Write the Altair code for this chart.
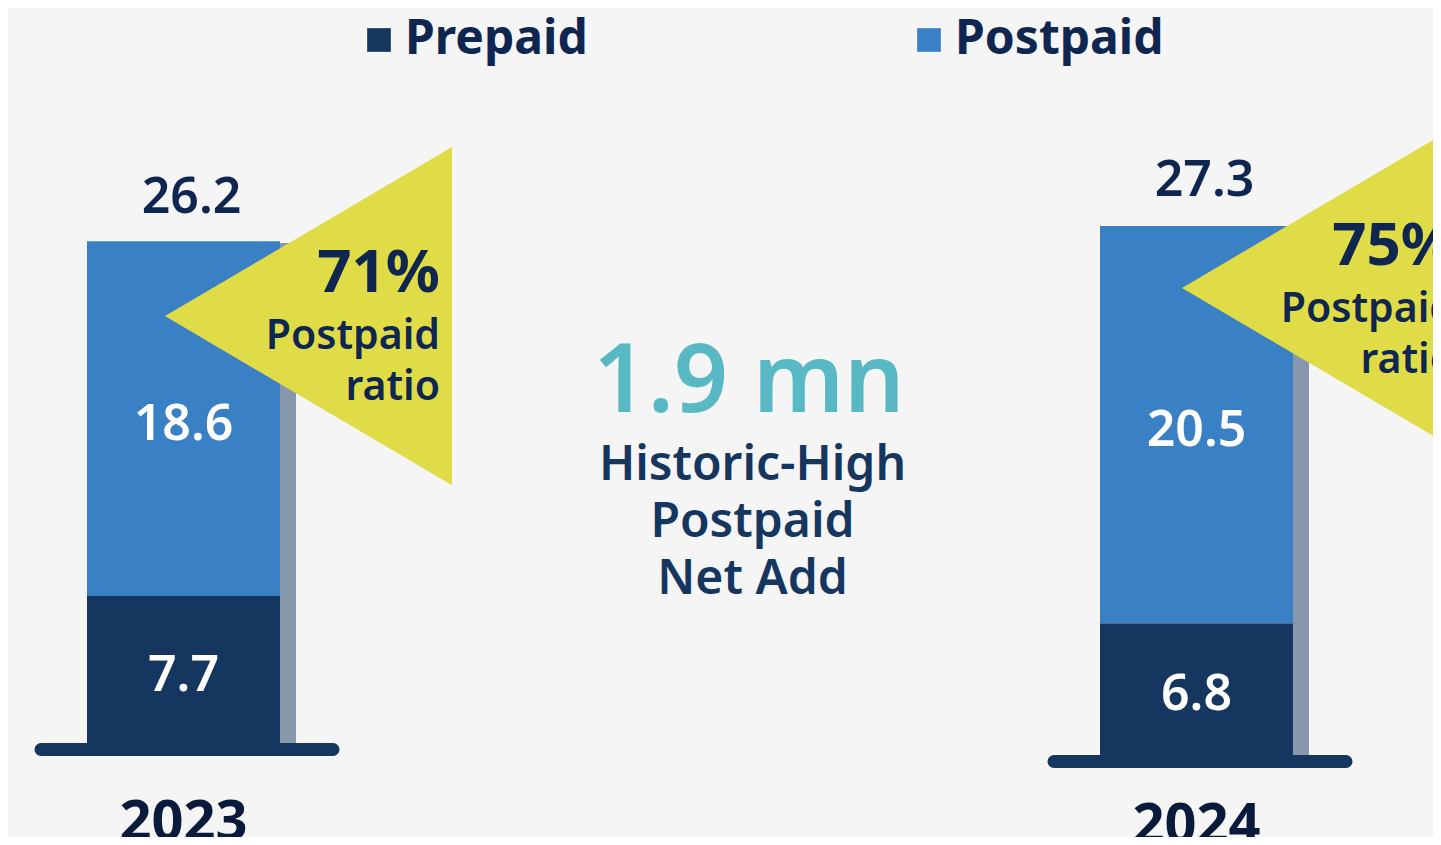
import altair as alt
import pandas as pd

# ---------------- data ----------------
years = [2023, 2024]
prepaid = [7.7, 6.8]
postpaid = [18.6, 20.5]
totals = [26.2, 27.3]
ratios = ["71%", "75%"]
ratio_label = "Postpaid\nratio"
series = ["Prepaid", "Postpaid"]
headline = "1.9 mn"
subline = "Historic-High\nPostpaid\nNet Add"

# ---------------- style ----------------
FONT = "Noto Sans"
NAVY = "#15365f"
BLUE = "#3a80c4"
SHADOW = "#8798ad"
YELLOW = "#e0dc48"
TEAL = "#58b8c3"
INK = "#0e2650"
BG = "#f5f5f5"

W, H = 1425, 829
X_PER_YEAR = 1013.0
X_ANCHOR = 175.5
x_domain = [years[0] - X_ANCHOR / X_PER_YEAR, years[0] + (W - X_ANCHOR) / X_PER_YEAR]
xsc = alt.Scale(domain=x_domain, nice=False, zero=False, padding=0)

# per-panel layout (pixels)
layout = [
    dict(base=735, k=19.08, year_dy=97, tri_dx=125, tri_dy=73, pct_dx=256.5, pct_dy=49, lab_dy=106),
    dict(base=747, k=19.38, year_dy=88, tri_dx=129, tri_dy=62, pct_dx=258.5, pct_dy=39, lab_dy=96),
]

# ---------------- tables ----------------
seg_rows = []
for yr, pre, post in zip(years, prepaid, postpaid):
    seg_rows.append(dict(year=yr, series="Prepaid", value=pre, y0=0.0, y1=pre, mid=pre / 2))
    seg_rows.append(dict(year=yr, series="Postpaid", value=post, y0=pre, y1=pre + post, mid=pre + post / 2))
seg_df = pd.DataFrame(seg_rows)
tot_df = pd.DataFrame(dict(year=years, total=totals, ratio=ratios, zero=[0.0] * len(years),
                           label=[ratio_label] * len(years), ylab=[str(y) for y in years]))

legend = alt.Legend(
    title=None, orient="none", legendX=347, legendY=8, direction="horizontal",
    symbolType="square", symbolSize=560, symbolStrokeWidth=0, symbolOpacity=1,
    labelFontSize=48, labelFont=FONT, labelFontWeight="bold", labelColor=INK,
    labelOffset=2, columnPadding=317, padding=0, labelLimit=500,
)

TRI_PATH = "M1,-1.178L1,1.178L-1,0Z"


def panel(i):
    L = layout[i]
    d0 = -(H - L["base"]) / L["k"]
    ysc = alt.Scale(domain=[d0, d0 + H / L["k"]], nice=False, zero=False, padding=0)
    seg = seg_df[seg_df["year"] == years[i]]
    tot = tot_df[tot_df["year"] == years[i]]
    X = alt.X("year:Q", scale=xsc, axis=None)

    shadow = alt.Chart(tot).mark_bar(width=16, xOffset=104.5, color=SHADOW).encode(
        x=X, y=alt.Y("total:Q", scale=ysc, axis=None), y2="zero:Q")
    bars = alt.Chart(seg).mark_bar(width=193).encode(
        x=X, y=alt.Y("y0:Q", scale=ysc, axis=None), y2="y1:Q",
        color=alt.Color("series:N", scale=alt.Scale(domain=series, range=[NAVY, BLUE]), legend=legend))
    base = alt.Chart(tot).mark_rule(strokeWidth=13, strokeCap="round", color=NAVY,
                                    xOffset=-142.5, x2Offset=149.5, yOffset=6.5).encode(
        x=X, x2="year:Q", y=alt.Y("zero:Q", scale=ysc, axis=None))
    seg_lab = alt.Chart(seg).mark_text(font=FONT, fontSize=50, fontWeight=600, color="white",
                                       baseline="middle", dy=6).encode(
        x=X, y=alt.Y("mid:Q", scale=ysc, axis=None), text=alt.Text("value:Q", format=".1f"))
    tot_lab = alt.Chart(tot).mark_text(font=FONT, fontSize=50, fontWeight=600, color=INK,
                                       baseline="alphabetic", dx=8, dy=-30).encode(
        x=X, y=alt.Y("total:Q", scale=ysc, axis=None), text=alt.Text("total:Q", format=".1f"))
    year_lab = alt.Chart(tot).mark_text(font=FONT, fontSize=56, fontWeight="bold", color="#0a1a3a",
                                        baseline="alphabetic", dy=L["year_dy"]).encode(
        x=X, y=alt.Y("zero:Q", scale=ysc, axis=None), text="ylab:N")
    tri = alt.Chart(tot).mark_point(shape=TRI_PATH, size=287 * 287, filled=True, fill=YELLOW,
                                    opacity=1, strokeWidth=0,
                                    xOffset=L["tri_dx"], yOffset=L["tri_dy"]).encode(
        x=X, y=alt.Y("total:Q", scale=ysc, axis=None))
    pct = alt.Chart(tot).mark_text(font=FONT, fontSize=60, fontWeight="bold", color=INK,
                                   align="right", baseline="alphabetic",
                                   dx=L["pct_dx"], dy=L["pct_dy"]).encode(
        x=X, y=alt.Y("total:Q", scale=ysc, axis=None), text="ratio:N")
    lab = alt.Chart(tot).mark_text(font=FONT, fontSize=41, fontWeight=600, color=INK,
                                   align="right", baseline="alphabetic", lineBreak="\n", lineHeight=51,
                                   dx=L["pct_dx"], dy=L["lab_dy"]).encode(
        x=X, y=alt.Y("total:Q", scale=ysc, axis=None), text="label:N")
    return alt.layer(shadow, bars, base, seg_lab, tot_lab, year_lab, tri, pct, lab)


head = alt.Chart(pd.DataFrame(dict(t=[headline]))).mark_text(
    font=FONT, fontSize=95, fontWeight=600, color=TEAL, align="center", baseline="alphabetic").encode(
    x=alt.value(741), y=alt.value(404), text="t:N")
sub = alt.Chart(pd.DataFrame(dict(t=[subline]))).mark_text(
    font=FONT, fontSize=48, fontWeight=600, color=NAVY, align="center", baseline="alphabetic",
    lineBreak="\n", lineHeight=57).encode(
    x=alt.value(744.5), y=alt.value(472), text="t:N")

chart = alt.layer(panel(0), panel(1), head, sub).resolve_scale(y="independent").properties(
    width=W, height=H, padding=0, background=BG,
    autosize=alt.AutoSizeParams(type="none"),
).configure_view(stroke=None, fill=BG)

chart.save("out.html", embed_options={"renderer": "svg", "actions": False})
